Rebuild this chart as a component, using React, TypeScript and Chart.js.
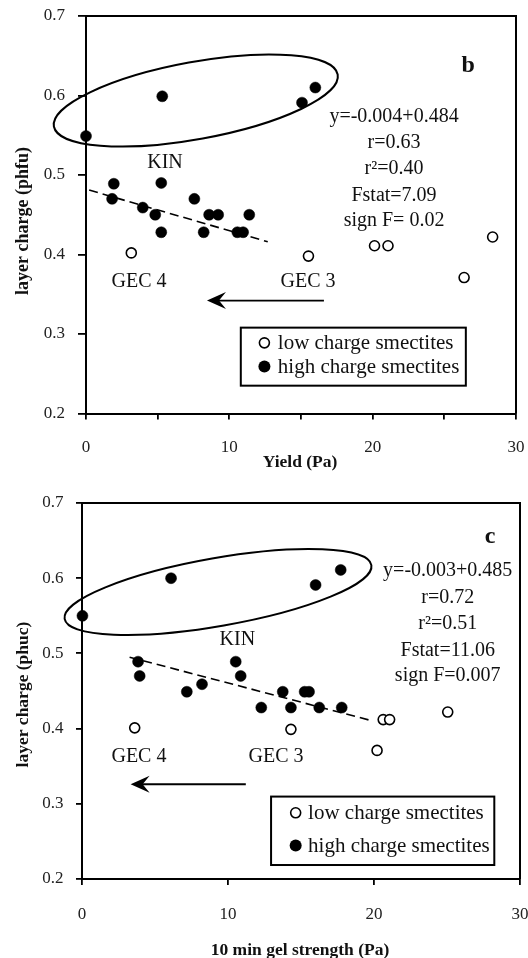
import React, { useEffect, useRef } from "react";
import { Chart, registerables } from "chart.js";

Chart.register(...registerables);

const FONT = '"Liberation Serif", "Times New Roman", Times, serif';

// ---------- Panel b: Yield (Pa) ----------
const yieldLowX = [3.16, 15.52, 20.13, 21.07, 26.38, 28.37];
const yieldLowY = [0.402, 0.398, 0.411, 0.411, 0.371, 0.422];
const yieldHighX = [0.0, 5.32, 15.07, 16.0, 1.94, 1.82, 3.96, 4.83, 5.25, 5.25, 7.56, 8.21, 8.59, 9.22, 10.56, 10.96, 11.39];
const yieldHighY = [0.549, 0.599, 0.591, 0.61, 0.489, 0.47, 0.459, 0.45, 0.49, 0.428, 0.47, 0.428, 0.45, 0.45, 0.428, 0.428, 0.45];
const yieldFitX = [0.22, 12.68];
const yieldFitY = [0.481, 0.416];
const yieldStats = ["y=-0.004+0.484", "r=0.63", "r\u00b2=0.40", "Fstat=7.09", "sign F= 0.02"];
const yieldXTicks = [0, 5, 10, 15, 20, 25, 30];

// ---------- Panel c: 10 min gel strength (Pa) ----------
const gelLowX = [3.61, 14.31, 20.63, 21.07, 20.21, 25.05];
const gelLowY = [0.401, 0.399, 0.412, 0.412, 0.371, 0.422];
const gelHighX = [0.03, 6.1, 16.0, 17.72, 3.84, 3.95, 7.18, 8.22, 10.53, 10.87, 12.28, 13.75, 14.31, 15.25, 15.55, 16.25, 17.79];
const gelHighY = [0.55, 0.6, 0.591, 0.611, 0.489, 0.47, 0.449, 0.459, 0.489, 0.47, 0.428, 0.449, 0.428, 0.449, 0.449, 0.428, 0.428];
const gelFitX = [3.26, 19.94];
const gelFitY = [0.495, 0.41];
const gelStats = ["y=-0.003+0.485", "r=0.72", "r\u00b2=0.51", "Fstat=11.06", "sign F=0.007"];
const gelXTicks = [0, 10, 20, 30];

// shared
const yTickValues = [0.2, 0.3, 0.4, 0.5, 0.6, 0.7];
const xLabelValues = [0, 10, 20, 30];
const legendLabels = ["low charge smectites", "high charge smectites"];

type Panel = {
  key: string;
  lowX: number[]; lowY: number[]; highX: number[]; highY: number[];
  fitX: number[]; fitY: number[];
  stats: string[];
  xTicks: number[];
  letter: string;
  xTitle: string; yTitle: string;
  canvasH: number;
  area: { top: number; right: number; bottom: number; left: number };
  yTickLen: number; yTickPad: number; xTickLen: number; xTickPad: number;
  yTitlePos: [number, number]; yTitleSize: number;
  xTitlePos: [number, number]; xTitleSize: number;
  // annotation anchors (data coordinates)
  letterAt: [number, number];
  statsX: number; statsY: number[];
  kinAt: [number, number]; gec4At: [number, number]; gec3At: [number, number];
  arrowFrom: [number, number]; arrowTo: [number, number];
  ellA: [number, number]; ellB: [number, number]; ellMinorPx: number;
  legTL: [number, number]; legBR: [number, number];
  legMarkDx: number; legTextDx: number; legRowDy: number[];
};

const W = 528;

const panelB: Panel = {
  key: "b",
  lowX: yieldLowX, lowY: yieldLowY, highX: yieldHighX, highY: yieldHighY,
  fitX: yieldFitX, fitY: yieldFitY, stats: yieldStats, xTicks: yieldXTicks,
  letter: "b", xTitle: "Yield (Pa)", yTitle: "layer charge (phfu)",
  canvasH: 480,
  area: { top: 16, right: 516, bottom: 413.5, left: 86 },
  yTickLen: 8, yTickPad: 13, xTickLen: 6, xTickPad: 18,
  yTitlePos: [23, 221], yTitleSize: 18,
  xTitlePos: [300, 462], xTitleSize: 17.5,
  letterAt: [26.66, 0.6375],
  statsX: 21.49, statsY: [0.5727, 0.541, 0.5083, 0.4745, 0.4428],
  kinAt: [5.51, 0.5156], gec4At: [3.7, 0.3652], gec3At: [15.49, 0.3652],
  arrowFrom: [16.6, 0.342], arrowTo: [8.44, 0.342],
  ellA: [-2.24, 0.561], ellB: [17.56, 0.6264], ellMinorPx: 38.6,
  legTL: [10.8, 0.308], legBR: [26.5, 0.235],
  legMarkDx: 23.6, legTextDx: 37, legRowDy: [15.2, 38.8],
};

const panelC: Panel = {
  key: "c",
  lowX: gelLowX, lowY: gelLowY, highX: gelHighX, highY: gelHighY,
  fitX: gelFitX, fitY: gelFitY, stats: gelStats, xTicks: gelXTicks,
  letter: "c", xTitle: "10 min gel strength (Pa)", yTitle: "layer charge (phuc)",
  canvasH: 478,
  area: { top: 23, right: 520, bottom: 399, left: 82 },
  yTickLen: 6, yTickPad: 12.5, xTickLen: 6, xTickPad: 19,
  yTitlePos: [23, 214.5], yTitleSize: 17.5,
  xTitlePos: [300, 470], xTitleSize: 17.5,
  letterAt: [27.95, 0.6544],
  statsX: 25.05, statsY: [0.6096, 0.5737, 0.5391, 0.5032, 0.4699],
  kinAt: [10.64, 0.5178], gec4At: [3.9, 0.362], gec3At: [13.29, 0.362],
  arrowFrom: [11.22, 0.326], arrowTo: [3.33, 0.326],
  ellA: [-1.19, 0.5459], ellB: [19.82, 0.6174], ellMinorPx: 34,
  legTL: [12.95, 0.3096], legBR: [28.24, 0.2186],
  legMarkDx: 24.6, legTextDx: 37, legRowDy: [16.2, 48.9],
};

function decor(p: Panel) {
  return {
    id: "decor_" + p.key,
    afterDraw(chart: any) {
      const { ctx, chartArea: a } = chart;
      const xs = chart.scales.x;
      const ys = chart.scales.y;
      const X = (v: number) => xs.getPixelForValue(v);
      const Y = (v: number) => ys.getPixelForValue(v);
      ctx.save();
      ctx.strokeStyle = "#000";
      ctx.fillStyle = "#000";

      // frame (top + right)
      ctx.lineWidth = 2;
      ctx.beginPath();
      ctx.moveTo(a.left, a.top);
      ctx.lineTo(a.right, a.top);
      ctx.lineTo(a.right, a.bottom);
      ctx.stroke();

      // ellipse around the high-charge outliers
      const ax = X(p.ellA[0]), ay = Y(p.ellA[1]);
      const bx = X(p.ellB[0]), by = Y(p.ellB[1]);
      const cx = (ax + bx) / 2, cy = (ay + by) / 2;
      const semi = Math.hypot(bx - ax, by - ay) / 2;
      const rot = Math.atan2(by - ay, bx - ax);
      ctx.lineWidth = 2;
      ctx.beginPath();
      ctx.ellipse(cx, cy, semi, p.ellMinorPx, rot, 0, Math.PI * 2);
      ctx.stroke();

      // arrow
      const x1 = X(p.arrowFrom[0]), y1 = Y(p.arrowFrom[1]);
      const x2 = X(p.arrowTo[0]), y2 = Y(p.arrowTo[1]);
      ctx.lineWidth = 1.8;
      ctx.beginPath();
      ctx.moveTo(x1, y1);
      ctx.lineTo(x2 + 10, y2);
      ctx.stroke();
      ctx.beginPath();
      ctx.moveTo(x2, y2);
      ctx.lineTo(x2 + 19, y2 - 8.5);
      ctx.lineTo(x2 + 12, y2);
      ctx.lineTo(x2 + 19, y2 + 8.5);
      ctx.closePath();
      ctx.fill();

      // texts
      ctx.textAlign = "center";
      ctx.textBaseline = "middle";
      ctx.fillStyle = "#111";
      ctx.font = `bold 24px ${FONT}`;
      ctx.fillText(p.letter, X(p.letterAt[0]), Y(p.letterAt[1]));
      ctx.font = `20px ${FONT}`;
      p.stats.forEach((s, i) => ctx.fillText(s, X(p.statsX), Y(p.statsY[i])));
      ctx.fillText("KIN", X(p.kinAt[0]), Y(p.kinAt[1]));
      ctx.fillText("GEC 4", X(p.gec4At[0]), Y(p.gec4At[1]));
      ctx.fillText("GEC 3", X(p.gec3At[0]), Y(p.gec3At[1]));

      // legend box
      const lx = X(p.legTL[0]), ly = Y(p.legTL[1]);
      const rx = X(p.legBR[0]), ry = Y(p.legBR[1]);
      ctx.lineWidth = 2;
      ctx.strokeStyle = "#000";
      ctx.strokeRect(lx, ly, rx - lx, ry - ly);
      ctx.font = `21px ${FONT}`;
      ctx.textAlign = "left";
      legendLabels.forEach((lab, i) => {
        const my = ly + p.legRowDy[i];
        const mx = lx + p.legMarkDx;
        ctx.beginPath();
        ctx.arc(mx, my, i === 0 ? 5 : 6, 0, Math.PI * 2);
        if (i === 0) {
          ctx.fillStyle = "#fff";
          ctx.fill();
          ctx.lineWidth = 1.6;
          ctx.stroke();
        } else {
          ctx.fillStyle = "#000";
          ctx.fill();
        }
        ctx.fillStyle = "#111";
        ctx.fillText(lab, lx + p.legTextDx, my + 1);
      });

      // axis titles
      ctx.fillStyle = "#111";
      ctx.textAlign = "center";
      ctx.textBaseline = "middle";
      ctx.font = `bold ${p.xTitleSize}px ${FONT}`;
      ctx.fillText(p.xTitle, p.xTitlePos[0], p.xTitlePos[1]);
      ctx.save();
      ctx.translate(p.yTitlePos[0], p.yTitlePos[1]);
      ctx.rotate(-Math.PI / 2);
      ctx.font = `bold ${p.yTitleSize}px ${FONT}`;
      ctx.fillText(p.yTitle, 0, 0);
      ctx.restore();

      ctx.restore();
    },
  };
}

function makeConfig(p: Panel): any {
  const pts = (xa: number[], ya: number[]) => xa.map((x, i) => ({ x, y: ya[i] }));
  return {
    type: "scatter",
    data: {
      datasets: [
        {
          label: legendLabels[1],
          data: pts(p.highX, p.highY),
          pointRadius: 5.5,
          pointBorderWidth: 0.5,
          backgroundColor: "#000",
          borderColor: "#000",
          clip: false,
        },
        {
          label: legendLabels[0],
          data: pts(p.lowX, p.lowY),
          pointRadius: 5,
          pointBorderWidth: 1.6,
          backgroundColor: "#fff",
          borderColor: "#000",
          clip: false,
        },
        {
          label: "fit",
          data: pts(p.fitX, p.fitY),
          showLine: true,
          borderColor: "#000",
          borderWidth: 1.6,
          borderDash: [9, 5],
          pointRadius: 0,
          clip: false,
        },
      ],
    },
    options: {
      animation: false,
      responsive: false,
      devicePixelRatio: 1,
      events: [],
      layout: { padding: { left: 0, top: p.area.top, right: W - p.area.right, bottom: 0 } },
      plugins: { legend: { display: false }, tooltip: { enabled: false }, title: { display: false } },
      scales: {
        x: {
          type: "linear",
          position: "bottom",
          min: 0,
          max: 30,
          afterBuildTicks: (s: any) => {
            s.ticks = p.xTicks.map((v) => ({ value: v }));
          },
          afterFit: (s: any) => {
            s.height = p.canvasH - p.area.bottom;
            s.paddingLeft = 0;
            s.paddingRight = 0;
          },
          ticks: {
            autoSkip: false,
            maxRotation: 0,
            padding: p.xTickPad,
            color: "#222",
            font: { family: FONT, size: 17 },
            callback: (v: any) => (xLabelValues.indexOf(Number(v)) >= 0 ? String(v) : ""),
          },
          grid: { drawOnChartArea: false, drawTicks: true, tickLength: p.xTickLen, color: "#000", lineWidth: 1.8 },
          border: { display: true, color: "#000", width: 2 },
        },
        y: {
          type: "linear",
          position: "left",
          min: 0.2,
          max: 0.7,
          afterBuildTicks: (s: any) => {
            s.ticks = yTickValues.map((v) => ({ value: v }));
          },
          afterFit: (s: any) => {
            s.width = p.area.left;
            s.paddingTop = 0;
            s.paddingBottom = 0;
          },
          ticks: {
            padding: p.yTickPad,
            color: "#222",
            font: { family: FONT, size: 17 },
            callback: (v: any) => Number(v).toFixed(1),
          },
          grid: { drawOnChartArea: false, drawTicks: true, tickLength: p.yTickLen, color: "#000", lineWidth: 1.8 },
          border: { display: true, color: "#000", width: 2 },
        },
      },
    },
    plugins: [decor(p)],
  };
}

function PanelChart({ panel, top }: { panel: Panel; top: number }) {
  const ref = useRef<HTMLCanvasElement | null>(null);
  useEffect(() => {
    if (!ref.current) return;
    const chart = new Chart(ref.current, makeConfig(panel));
    return () => chart.destroy();
  }, [panel]);
  return (
    <canvas
      ref={ref}
      width={W}
      height={panel.canvasH}
      style={{ position: "absolute", left: 0, top, width: W, height: panel.canvasH, display: "block" }}
    />
  );
}

export default function App() {
  return (
    <div style={{ position: "absolute", left: 0, top: 0, width: W, height: 958, background: "#fff", overflow: "hidden" }}>
      <PanelChart panel={panelB} top={0} />
      <PanelChart panel={panelC} top={480} />
    </div>
  );
}
